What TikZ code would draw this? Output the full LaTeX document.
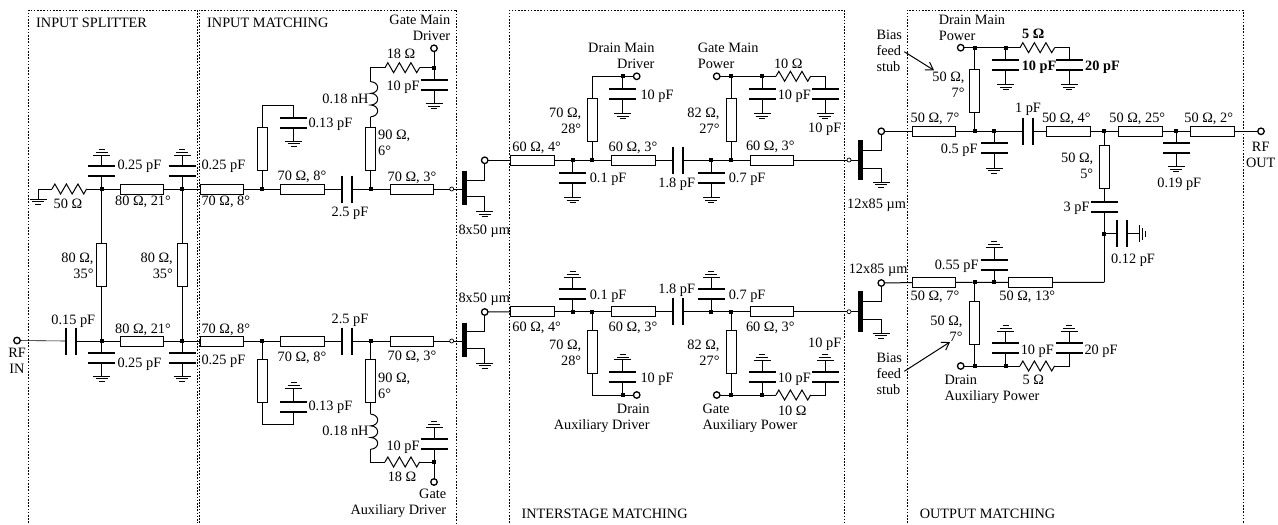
\documentclass[tikz,border=0pt]{standalone}
\usepackage{fontspec}
\setmainfont{Liberation Serif}
\usetikzlibrary{decorations.pathmorphing,arrows.meta}
\tikzset{
  frame/.style={line width=0.9pt,dash pattern=on 1.6pt off 1.6pt},
  lbl/.style={inner sep=0pt,text height=9.5pt,text depth=0pt,font=\fontsize{14.3}{16}\selectfont},
  lblb/.style={lbl,font=\fontsize{14.3}{16}\selectfont\bfseries},
  mlbl/.style={inner sep=0pt,yshift=-0.5pt,font=\fontsize{14.3}{16}\selectfont},
  jn/.style={rectangle,fill=black,minimum size=4pt,inner sep=0pt,outer sep=0pt},
  term/.style={circle,draw,line width=1.3pt,minimum size=6.5pt,inner sep=0pt,outer sep=0pt},
  sterm/.style={circle,draw,line width=0.7pt,minimum size=4pt,inner sep=0pt,outer sep=0pt},
  tl/.style={rectangle,draw,minimum width=43.6pt,minimum height=10pt,inner sep=0pt,outer sep=0pt},
  tlv/.style={rectangle,draw,minimum width=10pt,minimum height=43.4pt,inner sep=0pt,outer sep=0pt},
  fet/.style={rectangle,fill=black,minimum width=5pt,inner sep=0pt,outer sep=0pt},
  plate/.style={line width=1.7pt},
  capv/.style={minimum width=27pt,minimum height=10pt,inner sep=0pt,outer sep=0pt,
    append after command={(\tikzlastnode.north west) edge[plate] (\tikzlastnode.north east)
      (\tikzlastnode.south west) edge[plate] (\tikzlastnode.south east)}},
  caph/.style={minimum width=10pt,minimum height=27pt,inner sep=0pt,outer sep=0pt,
    append after command={(\tikzlastnode.north west) edge[plate] (\tikzlastnode.south west)
      (\tikzlastnode.north east) edge[plate] (\tikzlastnode.south east)}},
  gnd/.style={minimum width=17pt,minimum height=5.4pt,inner sep=0pt,outer sep=0pt,anchor=north,
    append after command={(\tikzlastnode.north west) edge (\tikzlastnode.north east)
      ([xshift=2.6pt]\tikzlastnode.west) edge ([xshift=-2.6pt]\tikzlastnode.east)
      ([xshift=5.4pt]\tikzlastnode.south west) edge ([xshift=-5.4pt]\tikzlastnode.south east)}},
  gndup/.style={minimum width=17pt,minimum height=5.4pt,inner sep=0pt,outer sep=0pt,anchor=south,
    append after command={(\tikzlastnode.south west) edge (\tikzlastnode.south east)
      ([xshift=2.6pt]\tikzlastnode.west) edge ([xshift=-2.6pt]\tikzlastnode.east)
      ([xshift=5.4pt]\tikzlastnode.north west) edge ([xshift=-5.4pt]\tikzlastnode.north east)}},
  gndr/.style={minimum width=5.4pt,minimum height=17pt,inner sep=0pt,outer sep=0pt,anchor=west,
    append after command={(\tikzlastnode.north west) edge (\tikzlastnode.south west)
      ([yshift=2.6pt]\tikzlastnode.south) edge ([yshift=-2.6pt]\tikzlastnode.north)
      ([yshift=5.4pt]\tikzlastnode.south east) edge ([yshift=-5.4pt]\tikzlastnode.north east)}},
  zz/.style={decorate,decoration={zigzag,segment length=11.55pt,amplitude=5pt,pre length=0pt,post length=0pt}},
  res/.style={minimum width=34.7pt,minimum height=0pt,inner sep=0pt,outer sep=0pt,
    append after command={(\tikzlastnode.west) edge[zz] (\tikzlastnode.east)}},
  coil/.style={to path={(\tikztostart)
    arc[start angle=90,end angle=-90,x radius=7pt,y radius=5.83pt]
    arc[start angle=90,end angle=-90,x radius=7pt,y radius=5.83pt]
    arc[start angle=90,end angle=-90,x radius=7pt,y radius=5.83pt]}},
  ind/.style={minimum width=0pt,minimum height=35pt,inner sep=0pt,outer sep=0pt,
    append after command={(\tikzlastnode.north) edge[coil] (\tikzlastnode.south)}},
  barb/.style={-{Straight Barb[length=7pt,width=9pt]}}
}
\begin{document}
\begin{tikzpicture}[x=1pt,y=-1pt,line width=1pt]
\useasboundingbox (0,0) rectangle (1278,525);
% frames
\draw[frame] (28.5,523) |- (197,10) -- (197,523);
\draw[frame] (199,523) |- (456.7,10) -- (456.7,523);
\draw[frame] (509.3,523) |- (844.3,10) -- (844.3,523);
\draw[frame] (907,523) |- (1243,10) -- (1243,523);
\node[lbl,anchor=west] (tsplit) at (35.7,22.3) {INPUT SPLITTER};
\node[lbl,anchor=west] (tinput) at (206.7,22.3) {INPUT MATCHING};
\node[lbl,anchor=west] (tinter) at (521,513.7) {INTERSTAGE MATCHING};
\node[lbl,anchor=west] (toutput) at (919.3,513.7) {OUTPUT MATCHING};

% splitter, upper branch
\node[gnd] (g0) at (38.3,199) {};
\node[res] (r0) at (69.3,189) {};
\node[jn] (j1) at (101.7,189) {};
\node[jn] (j2) at (182,189) {};
\node[jn] (j3) at (262,189) {};
\node[capv] (c1) at (101.7,171.3) {};
\node[gndup] (g1) at (101.7,155) {};
\node[capv] (c2) at (182,171.3) {};
\node[gndup] (g2) at (182,155) {};
\node[tl] (tl1) at (141.8,189) {};
\node[tl] (tl2) at (221.8,189) {};
\draw (g0.north) |- (r0.west);
\draw (r0.east) -- (j1) -- (tl1) -- (j2) -- (tl2) -- (j3);
\draw (j1) -- (c1.south);
\draw (c1.north) -- (g1.south);
\draw (j2) -- (c2.south);
\draw (c2.north) -- (g2.south);
\node[lbl] (l50) at (68,203.7) {50 Ω};
\node[lbl,anchor=west] (lc1) at (117,165) {0.25 pF};
\node[lbl] (ltl1) at (143,201) {80 Ω, 21°};
\node[lbl,anchor=west] (lc2) at (201,165) {0.25 pF};
\node[lbl,anchor=west] (ltl2) at (201,201) {70 Ω, 8°};

% splitter, lower branch
\node[term] (t0) at (17,340.5) {};
\node[caph] (sc0) at (71,341) {};
\node[jn] (j31) at (101.7,341) {};
\node[jn] (j32) at (182,341) {};
\node[jn] (j33) at (262,341) {};
\node[capv] (c31) at (101.7,358) {};
\node[gnd] (g31) at (101.7,376) {};
\node[capv] (c32) at (182,358) {};
\node[gnd] (g32) at (182,376) {};
\node[tl] (tl31) at (141.8,341) {};
\node[tl] (tl32) at (221.8,341) {};
\node[tlv] (st11) at (101.7,265) {};
\node[tlv] (st12) at (182,265) {};
\draw[line width=0.6pt] (t0) -- (sc0.west);
\draw (sc0.east) -- (j31) -- (tl31) -- (j32) -- (tl32) -- (j33);
\draw (j31) -- (c31.north);
\draw (c31.south) -- (g31.north);
\draw (j32) -- (c32.north);
\draw (c32.south) -- (g32.north);
\draw (j1) -- (st11) -- (j31);
\draw (j2) -- (st12) -- (j32);
\node[mlbl,align=center] (lrfin) at (17,360.2) {RF\\IN};
\node[lbl] (lsc0) at (73.3,319.3) {0.15 pF};
\node[lbl,anchor=west] (lc31) at (117,362.7) {0.25 pF};
\node[lbl] (ltl31) at (143,328.3) {80 Ω, 21°};
\node[lbl,anchor=west] (lc32) at (201,359.3) {0.25 pF};
\node[lbl,anchor=west] (ltl32) at (201,328.3) {70 Ω, 8°};
\node[mlbl,align=right,anchor=east] (lst11) at (94,265) {80 Ω,\\35°};
\node[mlbl,align=right,anchor=east] (lst12) at (173.3,265) {80 Ω,\\35°};

% input matching, main driver
\node[tlv] (st1) at (262,149) {};
\coordinate (k1) at (293.7,105.7);
\node[capv] (c3) at (293.7,123) {};
\node[gnd] (g3) at (293.7,141) {};
\node[tl] (tl3) at (302.2,189) {};
\node[caph] (sc1) at (347.3,189) {};
\node[jn] (j4) at (370.7,189) {};
\node[tlv] (st2) at (370.7,149) {};
\node[ind] (l1) at (370.7,99.2) {};
\node[res] (r1) at (402.3,67.7) {};
\node[jn] (j5) at (434,67.7) {};
\node[term] (t1) at (434,48.3) {};
\node[capv] (c4) at (434,85.3) {};
\node[gnd] (g4) at (434,103.3) {};
\node[tl] (tl4) at (411.8,189) {};
\node[sterm] (s1) at (451.7,189) {};
\node[fet,minimum height=34.6pt] (fet1) at (464.5,188) {};
\node[term] (t2) at (484.7,160.3) {};
\node[gnd] (g5) at (484.7,211.3) {};
\draw (j3) -- (st1.south);
\draw (st1.north) |- (k1) -- (c3.north);
\draw (c3.south) -- (g3.north);
\draw (j3) -- (tl3) -- (sc1.west);
\draw (sc1.east) -- (j4) -- (tl4) -- (s1);
\draw (s1) -- (s1 -| fet1.west);
\draw (j4) -- (st2.south);
\draw (st2.north) -- (l1.south);
\draw (l1.north) |- (r1.west);
\draw (r1.east) -- (j5) -- (t1);
\draw (j5) -- (c4.north);
\draw (c4.south) -- (g4.north);
\draw ([yshift=8pt]fet1.east) -| (t2);
\draw ([yshift=-8.7pt]fet1.east) -| (g5.north);
\node[lbl,anchor=west] (lc3) at (308,123) {0.13 pF};
\node[lbl] (ltl3) at (302,176) {70 Ω, 8°};
\node[lbl] (lsc1) at (350,212) {2.5 pF};
\node[mlbl,align=left,anchor=west] (lst2) at (377.7,142.3) {90 Ω,\\6°};
\node[lbl,anchor=east] (ll1) at (369,99) {0.18 nH};
\node[lbl] (lr1) at (401,54) {18 Ω};
\node[lbl,anchor=east] (lc4) at (420,86) {10 pF};
\node[lbl] (ltl4) at (412,176.7) {70 Ω, 3°};
\node[mlbl,align=right,anchor=east] (lgmd) at (450.7,27.2) {Gate Main\\Driver};
\node[lbl,anchor=west] (lfet1) at (458,229.3) {8x50 µm};

% input matching, auxiliary driver
\node[tlv] (st31) at (262,381) {};
\coordinate (k31) at (293.7,424.3);
\node[capv] (c33) at (293.7,406.7) {};
\node[gndup] (g33) at (293.7,388) {};
\node[tl] (tl33) at (302.2,341) {};
\node[caph] (sc31) at (347.3,341) {};
\node[jn] (j34) at (370.7,341) {};
\node[tlv] (st32) at (370.7,381) {};
\node[ind] (l31) at (370.7,431.7) {};
\node[res] (r31) at (402.3,462) {};
\node[jn] (j35) at (434,462) {};
\node[term] (t31) at (434,482) {};
\node[capv] (c34) at (434,444.3) {};
\node[gndup] (g34) at (434,427) {};
\node[tl] (tl34) at (411.8,341) {};
\node[sterm] (s3) at (451.7,341) {};
\node[fet,minimum height=34.6pt] (fet3) at (464.5,340) {};
\node[term] (t32) at (484.7,312) {};
\node[gnd] (g35) at (484.7,363) {};
\draw (j33) -- (st31.north);
\draw (st31.south) |- (k31) -- (c33.south);
\draw (c33.north) -- (g33.south);
\draw (j33) -- (tl33) -- (sc31.west);
\draw (sc31.east) -- (j34) -- (tl34) -- (s3);
\draw (s3) -- (s3 -| fet3.west);
\draw (j34) -- (st32.north);
\draw (st32.south) -- (l31.north);
\draw (l31.south) |- (r31.west);
\draw (r31.east) -- (j35) -- (t31);
\draw (j35) -- (c34.south);
\draw (c34.north) -- (g34.south);
\draw ([yshift=9pt]fet3.east) -| (t32);
\draw ([yshift=-8.7pt]fet3.east) -| (g35.north);
\node[lbl,anchor=west] (lc33) at (308,406) {0.13 pF};
\node[lbl] (ltl33) at (302,356.3) {70 Ω, 8°};
\node[lbl] (lsc31) at (350,318.7) {2.5 pF};
\node[mlbl,align=left,anchor=west] (lst32) at (377.7,385.3) {90 Ω,\\6°};
\node[lbl,anchor=east] (ll31) at (369,430.3) {0.18 nH};
\node[lbl] (lr31) at (402,476.3) {18 Ω};
\node[lbl,anchor=east] (lc34) at (420,445.3) {10 pF};
\node[lbl] (ltl34) at (412,356) {70 Ω, 3°};
\node[mlbl,align=right,anchor=east] (lgad) at (446.7,503.3) {Gate\\Auxiliary Driver};
\node[lbl,anchor=west] (lfet3) at (458,297.3) {8x50 µm};

% interstage, main
\node[tl] (tl5) at (532.7,160) {};
\node[jn] (j6) at (572.7,160) {};
\node[jn] (j7) at (592,160) {};
\node[tl] (tl6) at (633.2,160) {};
\node[caph] (sc2) at (678,160) {};
\node[jn] (j8) at (711.3,160) {};
\node[jn] (j9) at (731,160) {};
\node[tl] (tl7) at (772,160) {};
\node[sterm] (s2) at (849,160) {};
\node[fet,minimum height=40.6pt] (fet2) at (860.5,160) {};
\node[capv] (c5) at (572.7,177.7) {};
\node[gnd] (g6) at (572.7,197.3) {};
\node[capv] (c7) at (711.3,177.7) {};
\node[gnd] (g7) at (711.3,197.3) {};
\node[tlv] (st3) at (592,119.8) {};
\node[jn] (j10) at (622.7,76.3) {};
\node[term] (t3) at (636.7,76.3) {};
\node[capv] (c6) at (622.7,94) {};
\node[gnd] (g8) at (622.7,113.3) {};
\node[tlv] (st4) at (731,119.8) {};
\node[jn] (j11) at (731,76.3) {};
\node[term] (t4) at (716.7,76.3) {};
\node[jn] (j12) at (762,76.3) {};
\node[capv] (c8) at (762,94) {};
\node[gnd] (g9) at (762,113.3) {};
\node[res] (r2) at (793.3,76.3) {};
\node[capv] (c9) at (825.3,94) {};
\node[gnd] (g10) at (825.3,113.3) {};
\node[gnd] (g11) at (881.3,182) {};
\draw (t2) -| (tl5.west);
\draw (tl5) -- (j6) -- (j7) -- (tl6) -- (sc2.west);
\draw (sc2.east) -- (j8) -- (j9) -- (tl7) -- (s2);
\draw (s2) -- (fet2.west);
\draw (j6) -- (c5.north);
\draw (c5.south) -- (g6.north);
\draw (j8) -- (c7.north);
\draw (c7.south) -- (g7.north);
\draw (j7) -- (st3.south);
\draw (st3.north) |- (j10) -- (t3);
\draw (j10) -- (c6.north);
\draw (c6.south) -- (g8.north);
\draw (j9) -- (st4.south);
\draw (st4.north) -- (j11) -- (t4);
\draw (j11) -- (j12) -- (r2.west);
\draw (j12) -- (c8.north);
\draw (c8.south) -- (g9.north);
\draw (r2.east) -| (c9.north);
\draw (c9.south) -- (g10.north);
\draw ([yshift=-8.3pt]fet2.east) -| (g11.north);
\node[lbl] (ltl5) at (536.7,146.7) {60 Ω, 4°};
\node[lbl,anchor=west] (lc5) at (589.3,178) {0.1 pF};
\node[lbl] (ltl6) at (633,146.7) {60 Ω, 3°};
\node[lbl] (lsc2) at (676.7,182.7) {1.8 pF};
\node[lbl,anchor=west] (lc7) at (728.3,177.7) {0.7 pF};
\node[lbl] (ltl7) at (770.3,145.7) {60 Ω, 3°};
\node[mlbl,align=right,anchor=east] (lst3) at (581.7,120.5) {70 Ω,\\28°};
\node[mlbl,align=right,anchor=east] (lst4) at (720,120.5) {82 Ω,\\27°};
\node[mlbl,align=right,anchor=east] (ldmd) at (655,55.5) {Drain Main\\Driver};
\node[mlbl,align=left,anchor=west] (lgmp) at (697.3,55.5) {Gate Main\\Power};
\node[lbl,anchor=west] (lc6) at (640,94.3) {10 pF};
\node[lbl,anchor=west] (lc8) at (777.3,94.3) {10 pF};
\node[lbl] (lr2) at (788.3,63.3) {10 Ω};
\node[lbl,anchor=east] (lc9) at (841.7,128) {10 pF};
\node[lbl,anchor=west] (lfet2) at (846.7,203.3) {12x85 µm};

% interstage, auxiliary
\node[tl] (tl35) at (532.7,311.7) {};
\node[jn] (j36) at (572.7,311.7) {};
\node[jn] (j37) at (592,311.7) {};
\node[tl] (tl36) at (633.2,311.7) {};
\node[caph] (sc32) at (678,311.7) {};
\node[jn] (j38) at (711.3,311.7) {};
\node[jn] (j39) at (731,311.7) {};
\node[tl] (tl37) at (772,311.7) {};
\node[sterm] (s4) at (849,311.7) {};
\node[fet,minimum height=40.6pt] (fet4) at (860.5,311.7) {};
\node[capv] (c35) at (572.7,294) {};
\node[gndup] (g36) at (572.7,277) {};
\node[capv] (c37) at (711.3,294) {};
\node[gndup] (g37) at (711.3,277) {};
\node[tlv] (st33) at (592,352) {};
\node[jn] (j40) at (622.7,395) {};
\node[term] (t33) at (636.7,395) {};
\node[capv] (c36) at (622.7,377) {};
\node[gndup] (g38) at (622.7,359.7) {};
\node[tlv] (st34) at (731,352) {};
\node[jn] (j41) at (731,395) {};
\node[term] (t34) at (716.7,395) {};
\node[jn] (j42) at (762,395) {};
\node[capv] (c38) at (762,377) {};
\node[gndup] (g39) at (762,360) {};
\node[res] (r32) at (793.3,395) {};
\node[capv] (c39) at (825.3,377) {};
\node[gndup] (g40) at (825.3,360) {};
\node[gnd] (g41) at (881.3,333) {};
\draw (t32) -- (tl35);
\draw (tl35) -- (j36) -- (j37) -- (tl36) -- (sc32.west);
\draw (sc32.east) -- (j38) -- (j39) -- (tl37) -- (s4);
\draw (s4) -- (fet4.west);
\draw (j36) -- (c35.south);
\draw (c35.north) -- (g36.south);
\draw (j38) -- (c37.south);
\draw (c37.north) -- (g37.south);
\draw (j37) -- (st33.north);
\draw (st33.south) |- (j40) -- (t33);
\draw (j40) -- (c36.south);
\draw (c36.north) -- (g38.south);
\draw (j39) -- (st34.north);
\draw (st34.south) -- (j41) -- (t34);
\draw (j41) -- (j42) -- (r32.west);
\draw (j42) -- (c38.south);
\draw (c38.north) -- (g39.south);
\draw (r32.east) -| (c39.south);
\draw (c39.north) -- (g40.south);
\draw ([yshift=-7.6pt]fet4.east) -| (g41.north);
\node[lbl] (ltl35) at (536.7,326.3) {60 Ω, 4°};
\node[lbl,anchor=west] (lc35) at (589.3,294.3) {0.1 pF};
\node[lbl] (ltl36) at (633,326.3) {60 Ω, 3°};
\node[lbl] (lsc32) at (676.7,288.7) {1.8 pF};
\node[lbl,anchor=west] (lc37) at (728.3,294.3) {0.7 pF};
\node[lbl] (ltl37) at (770.3,326.3) {60 Ω, 3°};
\node[mlbl,align=right,anchor=east] (lst33) at (581.7,352.2) {70 Ω,\\28°};
\node[mlbl,align=right,anchor=east] (lst34) at (720,352.2) {82 Ω,\\27°};
\node[mlbl,align=right,anchor=east] (ldad) at (650,418) {Drain\\Auxiliary Driver};
\node[mlbl,align=left,anchor=west] (lgap) at (702,418) {Gate\\Auxiliary Power};
\node[lbl,anchor=west] (lc36) at (640,377.7) {10 pF};
\node[lbl,anchor=west] (lc38) at (777.3,377.7) {10 pF};
\node[lbl] (lr32) at (792.3,410.3) {10 Ω};
\node[lbl,anchor=east] (lc39) at (841.7,343) {10 pF};
\node[lbl,anchor=west] (lfet4) at (848.3,268.7) {12x85 µm};

% output, upper
\node[term] (t5) at (881.3,131.3) {};
\node[tl] (tl8) at (933.8,131.3) {};
\node[jn] (j13) at (974.7,131.3) {};
\node[jn] (j14) at (994,131.3) {};
\node[caph] (sc3) at (1028,131.3) {};
\node[tl] (tl9) at (1068.5,131.3) {};
\node[jn] (j15) at (1104.3,131.3) {};
\node[tl] (tl10) at (1140.5,131.3) {};
\node[jn] (j16) at (1176.3,131.3) {};
\node[tl] (tl11) at (1212.5,131.3) {};
\node[term] (t6) at (1261,131.3) {};
\node[tlv] (st5) at (974.7,90.7) {};
\node[jn] (j17) at (974.7,47.7) {};
\node[term] (t7) at (960.7,47.7) {};
\node[jn] (j18) at (1005.7,47.7) {};
\node[capv] (c10) at (1005.7,65) {};
\node[gnd] (g12) at (1005.7,84.3) {};
\node[res] (r3) at (1037.3,47.7) {};
\node[capv] (c11) at (1069,65) {};
\node[gnd] (g13) at (1069,84.3) {};
\node[capv] (c12) at (994,148.3) {};
\node[gnd] (g14) at (994,168) {};
\node[capv] (c13) at (1176.3,148.3) {};
\node[gnd] (g15) at (1176.3,166.5) {};
\node[tlv] (st6) at (1104.3,166.8) {};
\node[capv] (c14) at (1104.3,207.3) {};
\node[jn] (j19) at (1104.3,233.7) {};
\node[caph] (sc4) at (1122.3,233.7) {};
\node[gndr] (g16) at (1139.7,233.7) {};
\coordinate (k2) at (1104.3,282.3);
\draw ([yshift=10pt]fet2.east) -| (t5);
\draw (t5) -- (tl8) -- (j13) -- (j14) -- (sc3.west);
\draw (sc3.east) -- (tl9) -- (j15) -- (tl10) -- (j16) -- (tl11) -- (t6);
\draw (j13) -- (st5.south);
\draw (st5.north) -- (j17) -- (t7);
\draw (j17) -- (j18) -- (r3.west);
\draw (j18) -- (c10.north);
\draw (c10.south) -- (g12.north);
\draw (r3.east) -| (c11.north);
\draw (c11.south) -- (g13.north);
\draw (j14) -- (c12.north);
\draw (c12.south) -- (g14.north);
\draw (j16) -- (c13.north);
\draw (c13.south) -- (g15.north);
\draw (j15) -- (st6.north);
\draw (st6.south) -- (c14.north);
\draw (c14.south) -- (j19) -- (k2);
\draw (j19) -- (sc4.west);
\draw (sc4.east) -- (g16.west);
\node[lbl] (ltl8) at (935,117.3) {50 Ω, 7°};
\node[lbl,anchor=east] (lc12) at (978,149) {0.5 pF};
\node[lbl] (lsc3) at (1028,107.3) {1 pF};
\node[lbl] (ltl9) at (1066.3,117.3) {50 Ω, 4°};
\node[lbl] (ltl10) at (1137.3,117.3) {50 Ω, 25°};
\node[lbl] (ltl11) at (1208.7,117.3) {50 Ω, 2°};
\node[mlbl,align=center] (lrfout) at (1260.7,154) {RF\\OUT};
\node[lbl] (lc13) at (1179.3,183) {0.19 pF};
\node[mlbl,align=right,anchor=east] (lst6) at (1093.7,165) {50 Ω,\\5°};
\node[lbl,anchor=east] (lc14) at (1090,207) {3 pF};
\node[lbl,anchor=west] (lsc4) at (1110.7,258.3) {0.12 pF};
\node[mlbl,align=right,anchor=east] (lst5) at (965,84) {50 Ω,\\7°};
\node[mlbl,align=left,anchor=west] (ldmp) at (938.3,27.2) {Drain Main\\Power};
\node[lblb,anchor=west] (lc10) at (1021.3,65.3) {10 pF};
\node[lblb] (lr3) at (1033.3,34) {5 Ω};
\node[lblb,anchor=west] (lc11) at (1084.7,65.3) {20 pF};
\node[mlbl,align=left,anchor=west] (lbias1) at (876,50.4) {Bias\\feed\\stub};
\coordinate (a1s) at (904.3,51.7);
\coordinate (a1e) at (934,70.3);
\draw[barb] (a1s) -- (a1e);

% output, lower
\node[term] (t8) at (881.3,283) {};
\node[tl] (tl13) at (933.8,282.3) {};
\node[jn] (j21) at (974.7,282.3) {};
\node[jn] (j20) at (994,282.3) {};
\node[tl] (tl12) at (1030.2,282.3) {};
\node[capv] (c15) at (994,265) {};
\node[gndup] (g17) at (994,247) {};
\node[tlv] (st7) at (974.7,322.7) {};
\node[jn] (j22) at (974.7,366) {};
\node[term] (t9) at (960.7,366) {};
\node[jn] (j23) at (1005.7,366) {};
\node[capv] (c16) at (1005.7,348) {};
\node[gndup] (g18) at (1005.7,331) {};
\node[res] (r4) at (1037.3,366) {};
\node[capv] (c17) at (1069,348) {};
\node[gndup] (g19) at (1069,331) {};
\draw ([yshift=10.4pt]fet4.east) -| (t8);
\draw (t8) -- (tl13) -- (j21) -- (j20) -- (tl12) -- (k2);
\draw (j20) -- (c15.south);
\draw (c15.north) -- (g17.south);
\draw (j21) -- (st7.north);
\draw (st7.south) -- (j22) -- (t9);
\draw (j22) -- (j23) -- (r4.west);
\draw (j23) -- (c16.south);
\draw (c16.north) -- (g18.south);
\draw (r4.east) -| (c17.south);
\draw (c17.north) -- (g19.south);
\node[lbl] (ltl13) at (935,296) {50 Ω, 7°};
\node[lbl] (ltl12) at (1027.3,296) {50 Ω, 13°};
\node[lbl,anchor=east] (lc15) at (979,265) {0.55 pF};
\node[mlbl,align=right,anchor=east] (lst7) at (963,328) {50 Ω,\\7°};
\node[mlbl,align=left,anchor=west] (ldap) at (944,389.3) {Drain\\Auxiliary Power};
\node[lbl,anchor=west] (lc16) at (1020.3,349.3) {10 pF};
\node[lbl] (lr4) at (1033.3,380) {5 Ω};
\node[lbl,anchor=west] (lc17) at (1084,349.3) {20 pF};
\node[mlbl,align=left,anchor=west] (lbias2) at (876,373) {Bias\\feed\\stub};
\coordinate (a2s) at (904.3,371.3);
\coordinate (a2e) at (950,342);
\draw[barb] (a2s) -- (a2e);
\end{tikzpicture}
\end{document}
